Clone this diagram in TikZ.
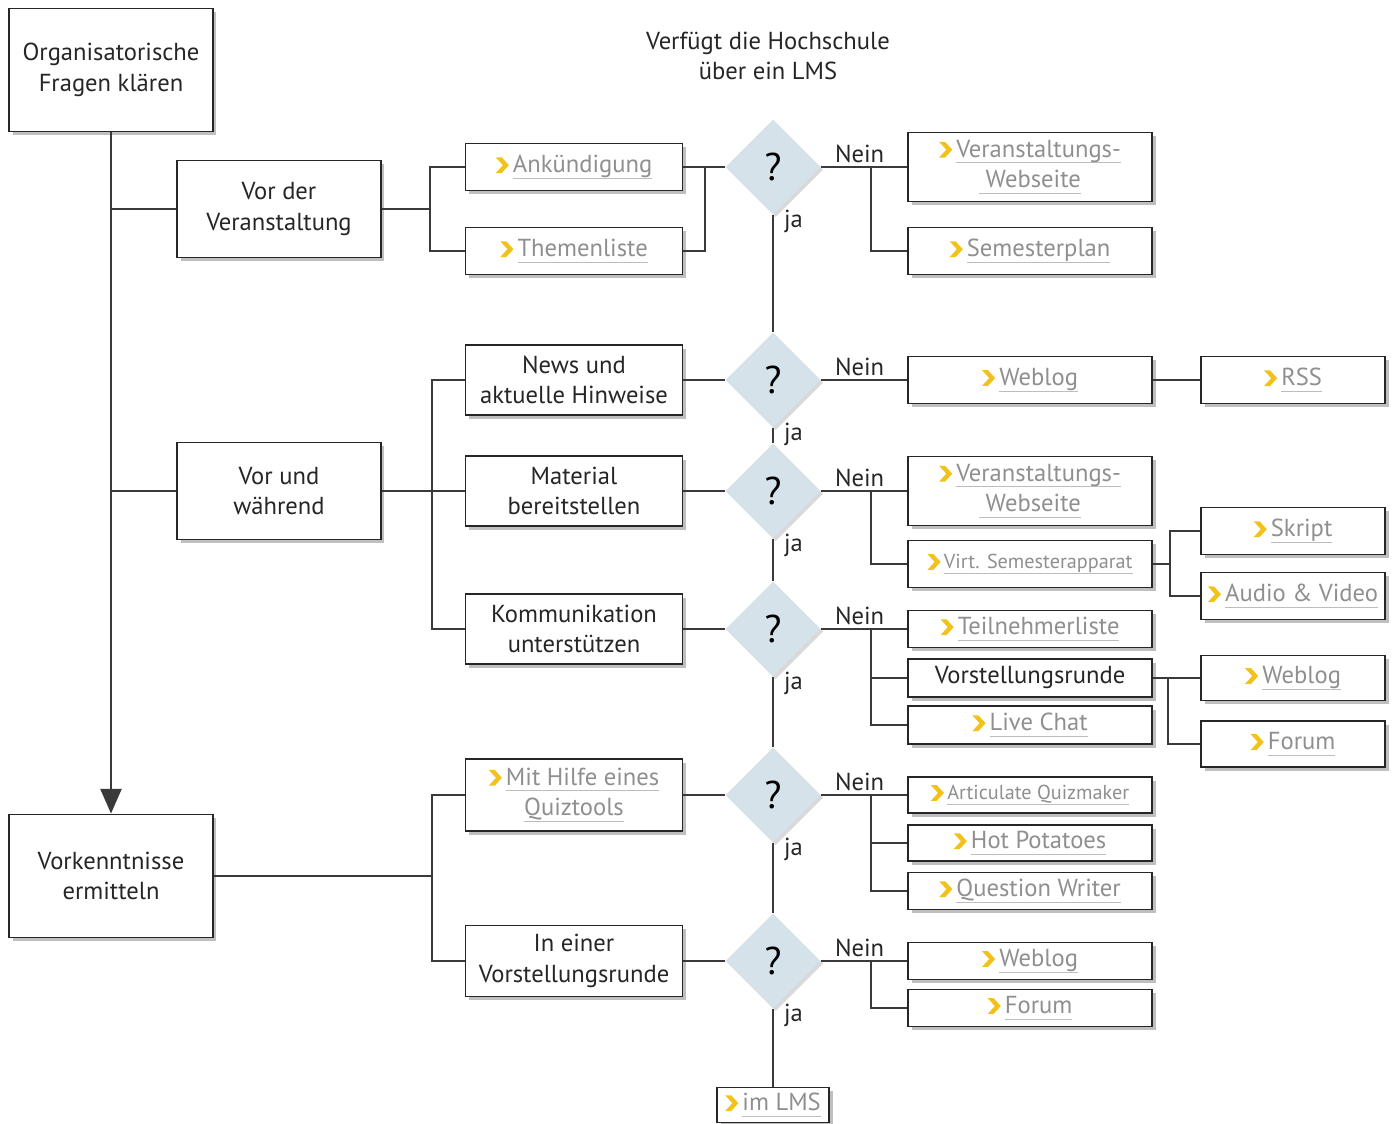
\documentclass[tikz,border=0pt]{standalone}
\usepackage{fontspec}
\setmainfont{PT Sans}
\usetikzlibrary{arrows.meta,shapes.geometric,shadows}

\definecolor{chevyellow}{HTML}{F2C21A}
\definecolor{linkgray}{HTML}{8F8F8F}
\definecolor{ulgray}{HTML}{BDBDBD}
\definecolor{qfill}{HTML}{D5E2E9}
\definecolor{wirecol}{HTML}{3A3A3A}

\newsavebox{\ulbox}
\newcommand{\chev}{\tikz[baseline=-0.6ex]\fill[chevyellow] (0pt,4.5pt) -- (3.4pt,4.5pt) -- (7.5pt,0pt) -- (3.4pt,-4.5pt) -- (0pt,-4.5pt) -- (4.1pt,0pt) -- cycle;}
\newcommand{\uln}[1]{\sbox{\ulbox}{#1}\rlap{\color{ulgray}\rule[-3.6pt]{\wd\ulbox}{0.7pt}}\usebox{\ulbox}}
\newcommand{\lnk}[1]{\chev\,\uln{#1}}

\begin{document}
\begin{tikzpicture}[
  x=0.02cm,y=-0.02cm,
  box/.style={rectangle,draw=black!85,line width=1.1pt,fill=white,align=center,
    font=\fontsize{14pt}{17.5pt}\selectfont,text=black!85,inner sep=2pt,
    drop shadow={shadow xshift=2pt,shadow yshift=-2pt,opacity=0.25,fill=black}},
  topic/.style={box,minimum width=4.08cm,minimum height=1.94cm},
  task/.style={box,minimum width=4.34cm,minimum height=1.4cm},
  tool/.style={box,minimum width=4.88cm,minimum height=0.94cm,text=linkgray},
  extra/.style={box,minimum width=3.68cm,minimum height=0.94cm,text=linkgray},
  small/.style={font=\fontsize{11.5pt}{13pt}\selectfont},
  ask/.style={diamond,fill=qfill,minimum width=1.9cm,minimum height=1.9cm,inner sep=0pt,
    font=\fontsize{22pt}{22pt}\selectfont,
    drop shadow={shadow xshift=1.5pt,shadow yshift=-1.5pt,opacity=0.15,fill=black}},
  wire/.style={draw=wirecol,line width=1pt},
  lbl/.style={font=\fontsize{14pt}{17pt}\selectfont,text=black!85,inner sep=1pt}
]
  \useasboundingbox (0,0) rectangle (1397,1124);

  \node[lbl,align=center] (title) at (768,56) {Verfügt die Hochschule\\über ein LMS};

  % left column
  \node[topic,minimum height=2.46cm] (orga) at (111,70) {Organisatorische\\Fragen klären};
  \node[topic] (vorder) at (279,209) {Vor der\\Veranstaltung};
  \node[topic] (vorwae) at (279,491) {Vor und\\während};
  \node[topic,minimum height=2.46cm] (wissen) at (111,876) {Vorkenntnisse\\ermitteln};

  % tasks
  \node[task,minimum height=0.94cm,text=linkgray] (ank) at (574,167) {\lnk{Ankündigung}};
  \node[task,minimum height=0.94cm,text=linkgray] (themen) at (574,251) {\lnk{Themenliste}};
  \node[task] (news) at (574,380) {News und\\aktuelle Hinweise};
  \node[task] (material) at (574,491) {Material\\bereitstellen};
  \node[task] (komm) at (574,629) {Kommunikation\\unterstützen};
  \node[task,minimum height=1.44cm,text=linkgray] (quiz) at (574,795) {\lnk{Mit Hilfe eines}\\\uln{Quiztools}};
  \node[task,minimum height=1.42cm] (runde) at (574,961) {In einer\\Vorstellungsrunde};

  % questions
  \foreach \n/\y in {1/167,2/380,3/491,4/629,5/795,6/961}{
    \node[ask] (q\n) at (773,\y) {?};
    \node[lbl,anchor=west] at (782,\y+54) {ja};
  }

  % tools
  \node[tool,minimum height=1.38cm] (web1) at (1030,167) {\lnk{Veranstaltungs-}\\\uln{\ Webseite}};
  \node[tool] (plan) at (1030,251) {\lnk{Semesterplan}};
  \node[tool] (blog1) at (1030,380) {\lnk{Weblog}};
  \node[tool,minimum height=1.38cm] (web2) at (1030,491) {\lnk{Veranstaltungs-}\\\uln{\ Webseite}};
  \node[tool,small] (semapp) at (1030,564) {\lnk{Virt. Semesterapparat}};
  \node[tool,minimum height=0.74cm] (tn) at (1030,629) {\lnk{Teilnehmerliste}};
  \node[tool,minimum height=0.76cm,text=black!85] (vrunde) at (1030,678) {Vorstellungsrunde};
  \node[tool,minimum height=0.76cm] (chat) at (1030,725) {\lnk{Live Chat}};
  \node[tool,small,minimum height=0.72cm] (aqm) at (1030,795) {\lnk{Articulate Quizmaker}};
  \node[tool,minimum height=0.72cm] (hotpot) at (1030,843) {\lnk{Hot Potatoes}};
  \node[tool,minimum height=0.74cm] (qw) at (1030,891) {\lnk{Question Writer}};
  \node[tool,minimum height=0.74cm] (blog2) at (1030,961) {\lnk{Weblog}};
  \node[tool,minimum height=0.74cm] (forum1) at (1030,1008) {\lnk{Forum}};

  \node[extra] (rss) at (1293,380) {\lnk{RSS}};
  \node[extra] (skript) at (1293,531) {\lnk{Skript}};
  \node[extra] (av) at (1293,596) {\lnk{Audio \& Video}};
  \node[extra,minimum height=0.9cm] (blog3) at (1293,678) {\lnk{Weblog}};
  \node[extra,minimum height=0.92cm] (forum2) at (1293,744) {\lnk{Forum}};

  \node[box,text=linkgray,minimum width=2.24cm,minimum height=0.7cm] (lms) at (773,1105) {\lnk{im LMS}};

  % forks
  \coordinate (f1) at (430,209);
  \coordinate (f2) at (432,491);
  \coordinate (f3) at (432,876);
  \coordinate (j1) at (705,167);
  \coordinate (f4) at (1170,564);
  \coordinate (f5) at (1168,678);
  \foreach \n/\y in {1/167,3/491,4/629,5/795,6/961}{
    \coordinate (n\n) at (871,\y);
  }

  % connectors
  \draw[wire,-{Triangle[length=14pt,width=12pt]}] (orga) -- (wissen);
  \draw[wire] (orga.south |- vorder) -- (vorder.west);
  \draw[wire] (orga.south |- vorwae) -- (vorwae.west);

  \draw[wire] (vorder.east) -- (f1);
  \draw[wire] (ank.west) -| (f1) |- (themen.west);
  \draw[wire] (vorwae.east) -- (material.west);
  \draw[wire] (news.west) -| (f2) |- (komm.west);
  \draw[wire] (wissen.east) -- (f3);
  \draw[wire] (quiz.west) -| (f3) |- (runde.west);

  \draw[wire] (ank.east) -- (q1.west);
  \draw[wire] (themen.east) -| (j1);
  \draw[wire] (news.east) -- (q2.west);
  \draw[wire] (material.east) -- (q3.west);
  \draw[wire] (komm.east) -- (q4.west);
  \draw[wire] (quiz.east) -- (q5.west);
  \draw[wire] (runde.east) -- (q6.west);

  \draw[wire] (q1.south) -- (q2.north);
  \draw[wire] (q2.south) -- (q3.north);
  \draw[wire] (q3.south) -- (q4.north);
  \draw[wire] (q4.south) -- (q5.north);
  \draw[wire] (q5.south) -- (q6.north);
  \draw[wire] (q6.south) -- (lms.north);

  \draw[wire] (q1.east) -- node[lbl,above=1pt,pos=0.45] {Nein} (web1.west);
  \draw[wire] (q2.east) -- node[lbl,above=1pt,pos=0.45] {Nein} (blog1.west);
  \draw[wire] (q3.east) -- node[lbl,above=1pt,pos=0.45] {Nein} (web2.west);
  \draw[wire] (q4.east) -- node[lbl,above=1pt,pos=0.45] {Nein} (tn.west);
  \draw[wire] (q5.east) -- node[lbl,above=1pt,pos=0.45] {Nein} (aqm.west);
  \draw[wire] (q6.east) -- node[lbl,above=1pt,pos=0.45] {Nein} (blog2.west);

  \draw[wire] (n1) |- (plan.west);
  \draw[wire] (n3) |- (semapp.west);
  \draw[wire] (n4) |- (chat.west);
  \draw[wire] (vrunde.west -| n4) -- (vrunde.west);
  \draw[wire] (n5) |- (qw.west);
  \draw[wire] (hotpot.west -| n5) -- (hotpot.west);
  \draw[wire] (n6) |- (forum1.west);

  \draw[wire] (blog1.east) -- (rss.west);
  \draw[wire] (semapp.east) -- (f4);
  \draw[wire] (skript.west) -| (f4) |- (av.west);
  \draw[wire] (vrunde.east) -- (blog3.west);
  \draw[wire] (f5) |- (forum2.west);
\end{tikzpicture}
\end{document}
